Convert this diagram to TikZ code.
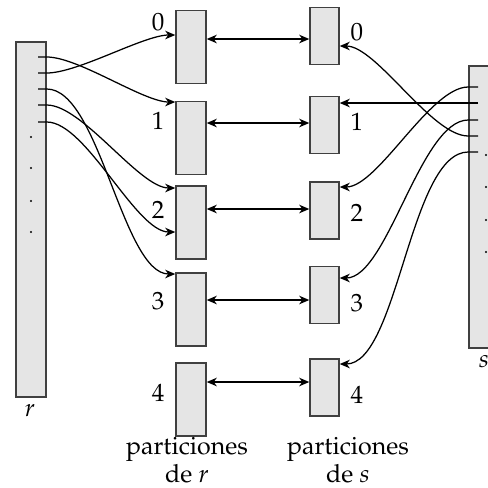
\documentclass[tikz,border=0pt]{standalone}
\usepackage[T1]{fontenc}
\usepackage{mathpazo}
\usepackage{tikz}
\usetikzlibrary{arrows.meta}
\tikzset{
  part/.style  ={draw=black!75, fill=black!10, inner sep=0pt,
                 line width=0.6pt},
  rpart/.style ={part, minimum width=12pt, minimum height=29.2pt},
  spart/.style ={part, minimum width=11.6pt, minimum height=22.8pt},
  rel/.style   ={part, minimum width=12pt},
  flow/.style  ={-{Stealth[length=4pt, width=3.4pt, inset=1.2pt]},
                 line width=0.5pt, looseness=0.6},
  dbl/.style   ={{Stealth[length=4pt, width=3.4pt, inset=1.2pt]}-{Stealth[length=4pt, width=3.4pt, inset=1.2pt]},
                 line width=0.5pt},
  lab/.style   ={font=\fontsize{10}{10}\selectfont, inner sep=0pt},
  capt/.style  ={font=\fontsize{10}{9.6}\selectfont, inner sep=0pt,
                 align=center},
}
\begin{document}
\begin{tikzpicture}[x=0.4pt, y=-0.4pt]
  \useasboundingbox (0,0) rectangle (488,488);
  % relations r and s
  \node[rel, minimum height=142pt] (r) at (31,219.5) {};
  \node[rel, minimum height=112.8pt] (s) at (484,207) {};
  \node[lab] (rname) at (30,411) {$r$};
  \node[lab] (sname) at (484,362) {$s$};
  % partitions of r
  \node[rpart] (r0) at (191,47) {};
  \node[rpart] (r1) at (191,138) {};
  \node[rpart] (r2) at (191,222.5) {};
  \node[rpart] (r3) at (191,309.5) {};
  \node[rpart] (r4) at (191,399.5) {};
  \node[lab] (rn0) at (158,22) {0};
  \node[lab] (rn1) at (158,121) {1};
  \node[lab] (rn2) at (158,210) {2};
  \node[lab] (rn3) at (158,301) {3};
  \node[lab] (rn4) at (158,393) {4};
  % partitions of s
  \node[spart] (s0) at (324.5,36) {};
  \node[spart] (s1) at (324.5,125) {};
  \node[spart] (s2) at (324.5,210.5) {};
  \node[spart] (s3) at (324.5,295) {};
  \node[spart] (s4) at (324.5,387.5) {};
  \node[lab] (sn0) at (357,32) {0};
  \node[lab] (sn1) at (357,122) {1};
  \node[lab] (sn2) at (357,213) {2};
  \node[lab] (sn3) at (357,303) {3};
  \node[lab] (sn4) at (357,395) {4};
  \node[capt] (rcapt) at (187,460) {particiones\\de $r$};
  \node[capt] (scapt) at (348,460) {particiones\\de $s$};
  % tuples: tick inside the relation, then the curve out
  \foreach \k/\y in {1/57,2/73,3/89,4/105,5/122} {
    \coordinate (ra\k) at (38,\y);
    \coordinate (rb\k) at (r.east |- 0,\y);
  }
  \foreach \k/\y in {1/87,2/103,3/120,4/136,5/152} {
    \coordinate (sa\k) at (478,\y);
    \coordinate (sb\k) at (s.west |- 0,\y);
  }
  \foreach \y in {137,168,201,232} \fill (31,\y) circle (0.45pt);
  \foreach \y in {155,187,220,252} \fill (486,\y) circle (0.45pt);
  \draw[flow] (ra1) -- (rb1) to[out=0, in=180] (r1.west |- 0,102);
  \draw[flow] (ra2) -- (rb2) to[out=0, in=180] (r0.west |- 0,35);
  \draw[flow] (ra3) -- (rb3) to[out=0, in=180] (r3.west |- 0,274);
  \draw[flow] (ra4) -- (rb4) to[out=0, in=180] (r2.west |- 0,188);
  \draw[flow] (ra5) -- (rb5) to[out=0, in=180] (r2.west |- 0,232);
  \draw[flow] (sa1) -- (sb1) to[out=180, in=0] (s2.east |- 0,187);
  \draw[flow] (sa2) -- (sb2) to[out=180, in=0] (s1.east |- 0,103);
  \draw[flow] (sa3) -- (sb3) to[out=180, in=0] (s3.east |- 0,278);
  \draw[flow] (sa4) -- (sb4) to[out=180, in=0] (s0.east |- 0,46);
  \draw[flow] (sa5) -- (sb5) to[out=180, in=0] (s4.east |- 0,364);
  % matching partition pairs
  \foreach \i/\y in {0/39,1/123,2/209,3/300,4/382}
    \draw[dbl] (r\i.east |- 0,\y) -- (s\i.west |- 0,\y);
\end{tikzpicture}
\end{document}
